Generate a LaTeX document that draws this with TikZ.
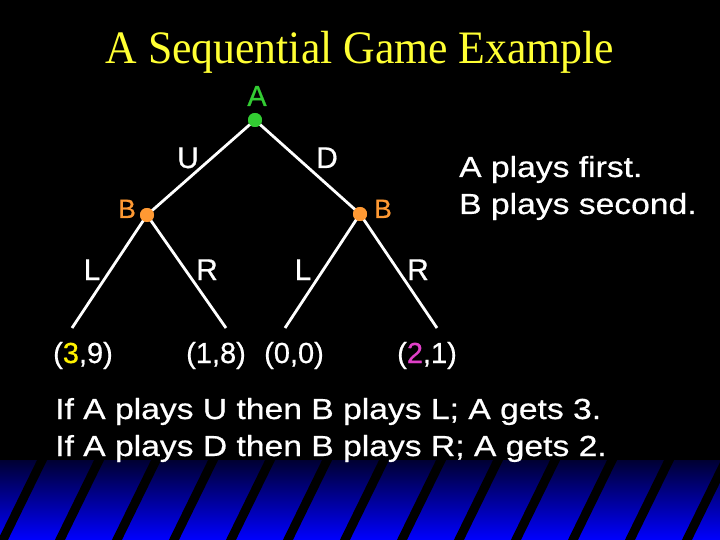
\documentclass[tikz,border=0pt]{standalone}
\usepackage{fontspec}
\setmainfont{Liberation Serif}
\newfontfamily\titlefont[FakeStretch=0.94]{Liberation Serif}
\newfontfamily\widesans[FakeStretch=1.16,FakeBold=0.6]{Liberation Sans}
\newfontfamily\plainsans[FakeBold=0.6]{Liberation Sans}
\definecolor{agreen}{RGB}{51,204,51}
\definecolor{borange}{RGB}{255,153,51}
\definecolor{tyellow}{RGB}{255,255,51}
\definecolor{pmag}{RGB}{224,64,200}
\definecolor{navy}{RGB}{0,0,50}
\tikzset{
  edge/.style={draw=white, line width=2.8pt},
  dotA/.style={circle, fill=agreen, inner sep=0pt, minimum size=14pt},
  dotB/.style={circle, fill=borange, inner sep=0pt, minimum size=14pt},
  lbl/.style={text=white, font=\plainsans\fontsize{30}{30}\selectfont, anchor=base, inner sep=0pt},
  leaf/.style={text=white, font=\plainsans\fontsize{29}{29}\selectfont, anchor=base, inner sep=0pt},
  side/.style={text=white, font=\widesans\fontsize{29}{38}\selectfont, anchor=base west, inner sep=0pt},
  stripe/.style={line width=9pt, black}
}
\begin{document}
\begin{tikzpicture}[x=1pt,y=-1pt]
\fill[black] (0,0) rectangle (720,540);
\useasboundingbox (0,0) rectangle (720,540);
% bottom band
\shade[top color=navy, bottom color=blue] (0,460) rectangle (720,540);
\begin{scope}
  \clip (0,460) rectangle (720,540);
  \foreach \i in {-2,...,14} {
    \draw[stripe] ({41+57*\i+6},450) -- ({41+57*\i-49+6},550);
  }
\end{scope}
% title
\node[text=tyellow, font=\titlefont\fontsize{46.5}{46.5}\selectfont, anchor=base, inner sep=0pt] (title) at (360,64) {A Sequential Game Example};
% tree nodes
\node[dotA] (A) at (255,120) {};
\node[dotB] (B1) at (147,215) {};
\node[dotB] (B2) at (360,214) {};
\coordinate (l1) at (72,328);
\coordinate (r1) at (226,328);
\coordinate (l2) at (285,328);
\coordinate (r2) at (437,328);
\draw[edge] (A.center) -- (B1.center);
\draw[edge] (A.center) -- (B2.center);
\draw[edge] (B1.center) -- (l1);
\draw[edge] (B1.center) -- (r1);
\draw[edge] (B2.center) -- (l2);
\draw[edge] (B2.center) -- (r2);
\node[dotA] at (A) {};
\node[dotB] at (B1) {};
\node[dotB] at (B2) {};
% player labels
\node[lbl, text=agreen, font=\plainsans\fontsize{29}{29}\selectfont] (Alab) at (257,106) {A};
\node[lbl, text=borange, font=\plainsans\fontsize{26.5}{26.5}\selectfont] (B1lab) at (127,218) {B};
\node[lbl, text=borange, font=\plainsans\fontsize{26.5}{26.5}\selectfont] (B2lab) at (383,218) {B};
% move labels
\node[lbl] (U) at (188,168) {U};
\node[lbl] (D) at (327,168) {D};
\node[lbl] (L1) at (92,280) {L};
\node[lbl] (R1) at (207,280) {R};
\node[lbl] (L2) at (303,280) {L};
\node[lbl] (R2) at (418,280) {R};
% payoffs
\node[leaf] (p1) at (83,363) {(\textcolor{yellow}{3},9)};
\node[leaf] (p2) at (216,363) {(1,8)};
\node[leaf] (p3) at (294,363) {(0,0)};
\node[leaf] (p4) at (427,363) {(\textcolor{pmag}{2},1)};
% side notes
\node[side] (s1) at (459,177) {A plays first.};
\node[side] (s2) at (459,214) {B plays second.};
% bottom text
\node[side] (c1) at (55,419) {If A plays U then B plays L; A gets 3.};
\node[side] (c2) at (55,456) {If A plays D then B plays R; A gets 2.};
\end{tikzpicture}
\end{document}
